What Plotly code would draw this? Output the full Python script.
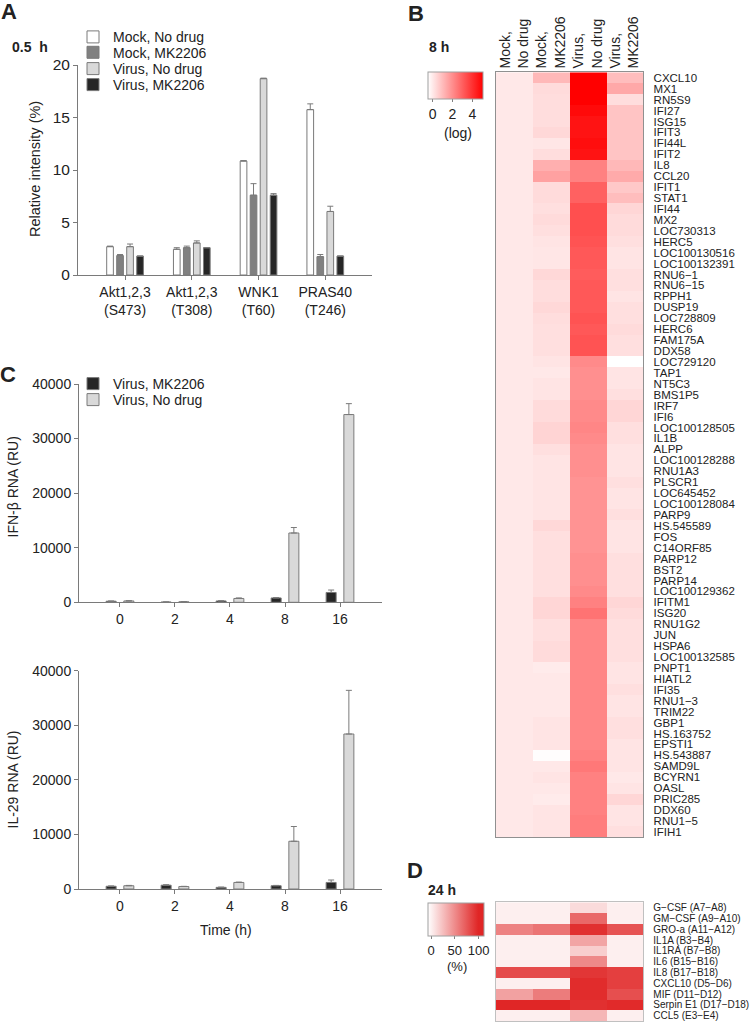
import plotly.graph_objects as go

W, H = 750, 1025
FONT = "Arial, 'Liberation Sans', Helvetica, sans-serif"


def px(x):
    return x / W


def py(y):
    return 1 - y / H


# ---------------- Panel A data ----------------
a_categories = ["Akt1,2,3<br>(S473)", "Akt1,2,3<br>(T308)", "WNK1<br>(T60)", "PRAS40<br>(T246)"]
a_series_names = ["Mock, No drug", "Mock, MK2206", "Virus, No drug", "Virus, MK2206"]
a_mock_nodrug = [2.7, 2.45, 10.85, 15.75]
a_mock_nodrug_err = [0.05, 0.15, 0.05, 0.55]
a_mock_mk = [1.85, 2.6, 7.6, 1.75]
a_mock_mk_err = [0.1, 0.15, 1.1, 0.2]
a_virus_nodrug = [2.7, 3.05, 18.7, 6.05]
a_virus_nodrug_err = [0.25, 0.2, 0.05, 0.5]
a_virus_mk = [1.8, 2.6, 7.6, 1.8]
a_virus_mk_err = [0.0, 0.0, 0.15, 0.0]

# ---------------- Panel C data ----------------
c_times = ["0", "2", "4", "8", "16"]
c_series_names = ["Virus, MK2206", "Virus, No drug"]
ifnb_mk = [200, 50, 250, 800, 1800]
ifnb_mk_err = [30, 10, 30, 60, 450]
ifnb_nodrug = [250, 100, 700, 12700, 34400]
ifnb_nodrug_err = [40, 20, 100, 1000, 2000]
il29_mk = [500, 700, 300, 600, 1200]
il29_mk_err = [50, 80, 40, 60, 450]
il29_nodrug = [600, 450, 1200, 8750, 28400]
il29_nodrug_err = [60, 40, 60, 2700, 8000]

# ---------------- Panel B data (log expression, 8 h) ----------------
b_conditions = ["Mock,<br>No drug", "Mock,<br>MK2206", "Virus,<br>No drug", "Virus,<br>MK2206"]
b_genes = [
    "CXCL10", "MX1", "RN5S9", "IFI27", "ISG15", "IFIT3", "IFI44L", "IFIT2", "IL8", "CCL20",
    "IFIT1", "STAT1", "IFI44", "MX2", "LOC730313", "HERC5", "LOC100130516", "LOC100132391", "RNU6\u22121", "RNU6\u221215",
    "RPPH1", "DUSP19", "LOC728809", "HERC6", "FAM175A", "DDX58", "LOC729120", "TAP1", "NT5C3", "BMS1P5",
    "IRF7", "IFI6", "LOC100128505", "IL1B", "ALPP", "LOC100128288", "RNU1A3", "PLSCR1", "LOC645452", "LOC100128084",
    "PARP9", "HS.545589", "FOS", "C14ORF85", "PARP12", "BST2", "PARP14", "LOC100129362", "IFITM1", "ISG20",
    "RNU1G2", "JUN", "HSPA6", "LOC100132585", "PNPT1", "HIATL2", "IFI35", "RNU1\u22123", "TRIM22", "GBP1",
    "HS.163752", "EPSTI1", "HS.543887", "SAMD9L", "BCYRN1", "OASL", "PRIC285", "DDX60", "RNU1\u22125", "IFIH1",
]
b_mock_nodrug = [
    0.05, 0.05, 0.05, 0.05, 0.05, 0.05, 0.05, 0.05, 0.05, 0.05,
    0.05, 0.05, 0.05, 0.05, 0.05, 0.05, 0.05, 0.05, 0.05, 0.05,
    0.05, 0.05, 0.05, 0.05, 0.05, 0.05, 0.05, 0.05, 0.05, 0.05,
    0.05, 0.05, 0.05, 0.05, 0.05, 0.05, 0.05, 0.05, 0.05, 0.05,
    0.05, 0.05, 0.05, 0.05, 0.05, 0.05, 0.05, 0.05, 0.05, 0.05,
    0.05, 0.05, 0.05, 0.05, 0.05, 0.05, 0.05, 0.05, 0.05, 0.05,
    0.05, 0.05, 0.05, 0.05, 0.05, 0.05, 0.05, 0.05, 0.05, 0.05,
]
b_mock_mk = [
    1.1, 0.35, 0.3, 0.3, 0.3, 0.4, 0.1, 0.3, 1.3, 1.6,
    0.35, 0.35, 0.25, 0.35, 0.25, 0.15, 0.1, 0.1, 0.4, 0.3,
    0.3, 0.4, 0.3, 0.25, 0.25, 0.25, 0.15, 0.05, 0.15, 0.15,
    0.35, 0.35, 0.5, 0.5, 0.25, 0.15, 0.15, 0.15, 0.15, 0.15,
    0.15, 0.4, 0.25, 0.25, 0.25, 0.25, 0.25, 0.25, 0.45, 0.45,
    0.25, 0.25, 0.35, 0.35, 0.0, 0.05, 0.05, 0.05, 0.05, 0.15,
    0.15, 0.15, -0.4, 0.05, 0.15, 0.05, 0.0, 0.15, 0.15, 0.15,
]
b_virus_nodrug = [
    5.1, 5.1, 5.1, 4.9, 4.7, 4.7, 4.8, 4.7, 2.3, 2.3,
    3.0, 3.0, 3.4, 3.4, 3.4, 3.3, 3.2, 3.2, 3.1, 3.2,
    3.2, 3.2, 3.3, 3.2, 3.3, 3.3, 2.1, 2.0, 2.0, 2.0,
    2.1, 2.1, 2.2, 2.1, 2.0, 2.0, 2.0, 1.9, 1.9, 1.9,
    1.9, 1.9, 1.9, 1.9, 2.0, 2.0, 2.0, 2.1, 2.3, 2.6,
    2.2, 2.2, 2.2, 2.2, 2.2, 2.2, 2.2, 2.2, 2.2, 2.2,
    2.2, 2.2, 2.3, 2.5, 2.3, 2.3, 2.3, 2.3, 2.4, 2.4,
]
b_virus_mk = [
    1.0, 1.45, 0.3, 0.85, 0.85, 0.85, 0.85, 0.85, 1.1, 1.4,
    0.75, 1.0, 0.45, 0.35, 0.35, 0.25, 0.15, 0.15, 0.25, 0.25,
    0.15, 0.25, 0.25, 0.35, 0.25, 0.25, -0.44, 0.15, 0.15, 0.25,
    0.45, 0.45, 0.25, 0.25, 0.15, 0.15, 0.15, 0.25, 0.15, 0.15,
    0.25, 0.15, 0.15, 0.15, 0.25, 0.25, 0.25, 0.25, 0.45, 0.35,
    0.25, 0.25, 0.25, 0.25, 0.15, 0.15, 0.25, 0.15, 0.15, 0.25,
    0.25, 0.15, 0.15, 0.15, 0.05, 0.15, 0.45, 0.15, 0.15, 0.25,
]
b_colorbar_ticks = [0, 2, 4]

# ---------------- Panel D data (% , 24 h) ----------------
d_rows = [
    "G\u2212CSF (A7\u2212A8)", "GM\u2212CSF (A9\u2212A10)", "GRO-a (A11\u2212A12)", "IL1A (B3\u2212B4)",
    "IL1RA (B7\u2212B8)", "IL6 (B15\u2212B16)", "IL8 (B17\u2212B18)", "CXCL10 (D5\u2212D6)",
    "MIF (D11\u2212D12)", "Serpin E1 (D17\u2212D18)", "CCL5 (E3\u2212E4)",
]
d_mock_nodrug = [2, 2, 55, 2, 2, 2, 82, 2, 40, 100, 2]
d_mock_mk = [2, 2, 62, 2, 2, 2, 82, 2, 58, 100, 2]
d_virus_nodrug = [12, 68, 95, 38, 18, 52, 92, 97, 97, 95, 30]
d_virus_mk = [2, 2, 78, 2, 2, 2, 88, 88, 80, 98, 2]
d_colorbar_ticks = [0, 50, 100]

# ---------------- styling ----------------
AXC = "#7a7a7a"
a_colors = ["#ffffff", "#808080", "#d9d9d9", "#262626"]
c_colors = ["#262626", "#d9d9d9"]
a_offsets = [-0.275, -0.125, 0.025, 0.175]
a_width = 0.1
c_offsets = [-0.252, 0.07]
c_width = 0.182
a_legend_rows = [37.3, 52.7, 69.0, 85.0]
c_legend_rows = [384.0, 400.0]

fig = go.Figure()

# Panel A bars
a_vals = [a_mock_nodrug, a_mock_mk, a_virus_nodrug, a_virus_mk]
a_errs = [a_mock_nodrug_err, a_mock_mk_err, a_virus_nodrug_err, a_virus_mk_err]
for i in range(4):
    fig.add_trace(go.Bar(
        x=a_categories, y=a_vals[i], name=a_series_names[i],
        offset=a_offsets[i], width=a_width,
        marker=dict(color=a_colors[i], line=dict(color=AXC, width=1)),
        error_y=dict(type="data", array=a_errs[i], arrayminus=[0] * 4, symmetric=False,
                     color=AXC, thickness=1, width=3),
        xaxis="x", yaxis="y", legend="legend" if i == 0 else f"legend{i + 1}",
    ))

# Panel C bars
c_top = [(ifnb_mk, ifnb_mk_err), (ifnb_nodrug, ifnb_nodrug_err)]
c_bot = [(il29_mk, il29_mk_err), (il29_nodrug, il29_nodrug_err)]
for i in range(2):
    fig.add_trace(go.Bar(
        x=c_times, y=c_top[i][0], name=c_series_names[i],
        offset=c_offsets[i], width=c_width,
        marker=dict(color=c_colors[i], line=dict(color=AXC, width=1)),
        error_y=dict(type="data", array=c_top[i][1], arrayminus=[0] * 5, symmetric=False,
                     color=AXC, thickness=1, width=3),
        xaxis="x2", yaxis="y2", legend=f"legend{i + 5}",
    ))
for i in range(2):
    fig.add_trace(go.Bar(
        x=c_times, y=c_bot[i][0], name=c_series_names[i], showlegend=False,
        offset=c_offsets[i], width=c_width,
        marker=dict(color=c_colors[i], line=dict(color=AXC, width=1)),
        error_y=dict(type="data", array=c_bot[i][1], arrayminus=[0] * 5, symmetric=False,
                     color=AXC, thickness=1, width=3),
        xaxis="x3", yaxis="y3",
    ))

# Panel B heatmap
b_cols = [b_mock_nodrug, b_mock_mk, b_virus_nodrug, b_virus_mk]
b_z = [[b_cols[c][r] for c in range(4)] for r in range(len(b_genes))]
fig.add_trace(go.Heatmap(
    z=b_z, x=b_conditions, y=b_genes, xaxis="x4", yaxis="y4",
    zmin=-0.44, zmax=5.11, showlegend=False,
    colorscale=[[0, "#ffffff"], [1, "#ff0000"]],
    colorbar=dict(
        orientation="h", x=px(428.3), xanchor="left", y=py(72.3), yanchor="top",
        len=55, lenmode="pixels", thickness=27, thicknessmode="pixels",
        xpad=0, ypad=0, outlinewidth=1, outlinecolor="#a0a0a0",
        tickvals=b_colorbar_ticks, ticks="outside", ticklen=3, tickcolor="#808080",
        tickfont=dict(size=14, family=FONT, color="#222"),
    ),
))

# Panel D heatmap
d_cols = [d_mock_nodrug, d_mock_mk, d_virus_nodrug, d_virus_mk]
d_z = [[d_cols[c][r] for c in range(4)] for r in range(len(d_rows))]
fig.add_trace(go.Heatmap(
    z=d_z, x=b_conditions, y=d_rows, xaxis="x5", yaxis="y5",
    zmin=-5.7, zmax=112, showlegend=False,
    colorscale=[[0, "#ffffff"], [0.898, "#e02626"], [1, "#e02626"]],
    colorbar=dict(
        orientation="h", x=px(428.3), xanchor="left", y=py(902.7), yanchor="top",
        len=56, lenmode="pixels", thickness=33, thicknessmode="pixels",
        xpad=0, ypad=0, outlinewidth=1, outlinecolor="#a0a0a0",
        tickvals=d_colorbar_ticks, ticks="outside", ticklen=3, tickcolor="#808080",
        tickfont=dict(size=13, family=FONT, color="#222"),
    ),
))

common_line = dict(showline=True, linecolor=AXC, linewidth=1, showgrid=False, zeroline=False,
                   ticks="outside", tickcolor=AXC, ticklen=4)

legend_style = dict(xanchor="left", yanchor="middle", font=dict(size=14),
                    bgcolor="rgba(0,0,0,0)", borderwidth=0)
legends = {}
for i, yy in enumerate(a_legend_rows):
    key = "legend" if i == 0 else f"legend{i + 1}"
    legends[key] = dict(x=px(73), y=py(yy), **legend_style)
for i, yy in enumerate(c_legend_rows):
    legends[f"legend{i + 5}"] = dict(x=px(73), y=py(yy), **legend_style)

fig.update_layout(
    width=W, height=H, margin=dict(l=0, r=0, t=0, b=0, autoexpand=False),
    paper_bgcolor="white", plot_bgcolor="white",
    font=dict(family=FONT, color="#222", size=14),
    barmode="overlay", showlegend=True,
    xaxis=dict(domain=[px(78), px(372)], anchor="y", type="category", range=[-0.705, 3.70],
               tickfont=dict(size=14), **common_line),
    yaxis=dict(domain=[py(275), py(65)], anchor="x", range=[0, 20], tickvals=[0, 5, 10, 15, 20],
               tickfont=dict(size=15.5), **common_line),
    xaxis2=dict(domain=[px(79), px(381.7)], anchor="y2", type="category", range=[-0.745, 4.758],
                tickfont=dict(size=14), **common_line),
    yaxis2=dict(domain=[py(602.3), py(384)], anchor="x2", range=[0, 40000],
                tickvals=[0, 10000, 20000, 30000, 40000], tickformat="d",
                tickfont=dict(size=14), **common_line),
    xaxis3=dict(domain=[px(79), px(381.7)], anchor="y3", type="category", range=[-0.745, 4.758],
                tickfont=dict(size=14), **common_line),
    yaxis3=dict(domain=[py(889), py(670.7)], anchor="x3", range=[0, 40000],
                tickvals=[0, 10000, 20000, 30000, 40000], tickformat="d",
                tickfont=dict(size=14), **common_line),
    xaxis4=dict(domain=[px(495.7), px(643.3)], anchor="y4", type="category", side="top",
                tickangle=-90, ticks="", showline=True, mirror=True, linecolor="#909090",
                showgrid=False, zeroline=False, tickfont=dict(size=14)),
    yaxis4=dict(domain=[py(837.3), py(72.3)], anchor="x4", type="category", side="right",
                autorange="reversed", tickmode="array", tickvals=b_genes, ticktext=b_genes,
                ticks="outside", ticklen=7, tickcolor="rgba(0,0,0,0)",
                showline=True, mirror=True, linecolor="#909090", showgrid=False, zeroline=False,
                tickfont=dict(size=11.5)),
    xaxis5=dict(domain=[px(495.7), px(643.3)], anchor="y5", type="category",
                showticklabels=False, ticks="", showline=True, mirror=True, linecolor="#c0c0c0",
                showgrid=False, zeroline=False),
    yaxis5=dict(domain=[py(1021), py(902.3)], anchor="x5", type="category", side="right",
                autorange="reversed", tickmode="array", tickvals=d_rows, ticktext=d_rows,
                ticks="outside", ticklen=7, tickcolor="rgba(0,0,0,0)",
                showline=True, mirror=True, linecolor="#c0c0c0", showgrid=False, zeroline=False,
                tickfont=dict(size=10)),
    **legends,
)

annots = [
    dict(text="<b>A</b>", x=px(9), y=py(11), size=22),
    dict(text="<b>B</b>", x=px(416), y=py(13), size=22),
    dict(text="<b>C</b>", x=px(8), y=py(374), size=22),
    dict(text="<b>D</b>", x=px(415), y=py(870), size=22),
    dict(text="<b>0.5  h</b>", x=px(30), y=py(47), size=14),
    dict(text="<b>8 h</b>", x=px(439), y=py(47), size=14),
    dict(text="<b>24 h</b>", x=px(442), y=py(890), size=14),
    dict(text="(log)", x=px(458), y=py(133), size=14),
    dict(text="(%)", x=px(456.5), y=py(966), size=13),
    dict(text="Time (h)", x=px(226), y=py(930), size=14),
]
for a in annots:
    fig.add_annotation(text=a["text"], x=a["x"], y=a["y"], xref="paper", yref="paper",
                       xanchor="center", yanchor="middle", showarrow=False,
                       font=dict(size=a["size"], family=FONT, color="#222"))

rot = [
    dict(text="Relative intensity (%)", x=px(35), y=py(169), size=14.5),
    dict(text="IFN-\u03b2 RNA (RU)", x=px(12.5), y=py(487), size=14),
    dict(text="IL-29 RNA (RU)", x=px(12.5), y=py(780), size=14),
]
for a in rot:
    fig.add_annotation(text=a["text"], x=a["x"], y=a["y"], xref="paper", yref="paper",
                       xanchor="center", yanchor="middle", showarrow=False, textangle=-90,
                       font=dict(size=a["size"], family=FONT, color="#222"))

# remove the browser's default 8px body margin so the figure sits at the page origin
fig.write_html("out.html", config={"displayModeBar": False},
               post_script="document.body.style.margin='0px';")
